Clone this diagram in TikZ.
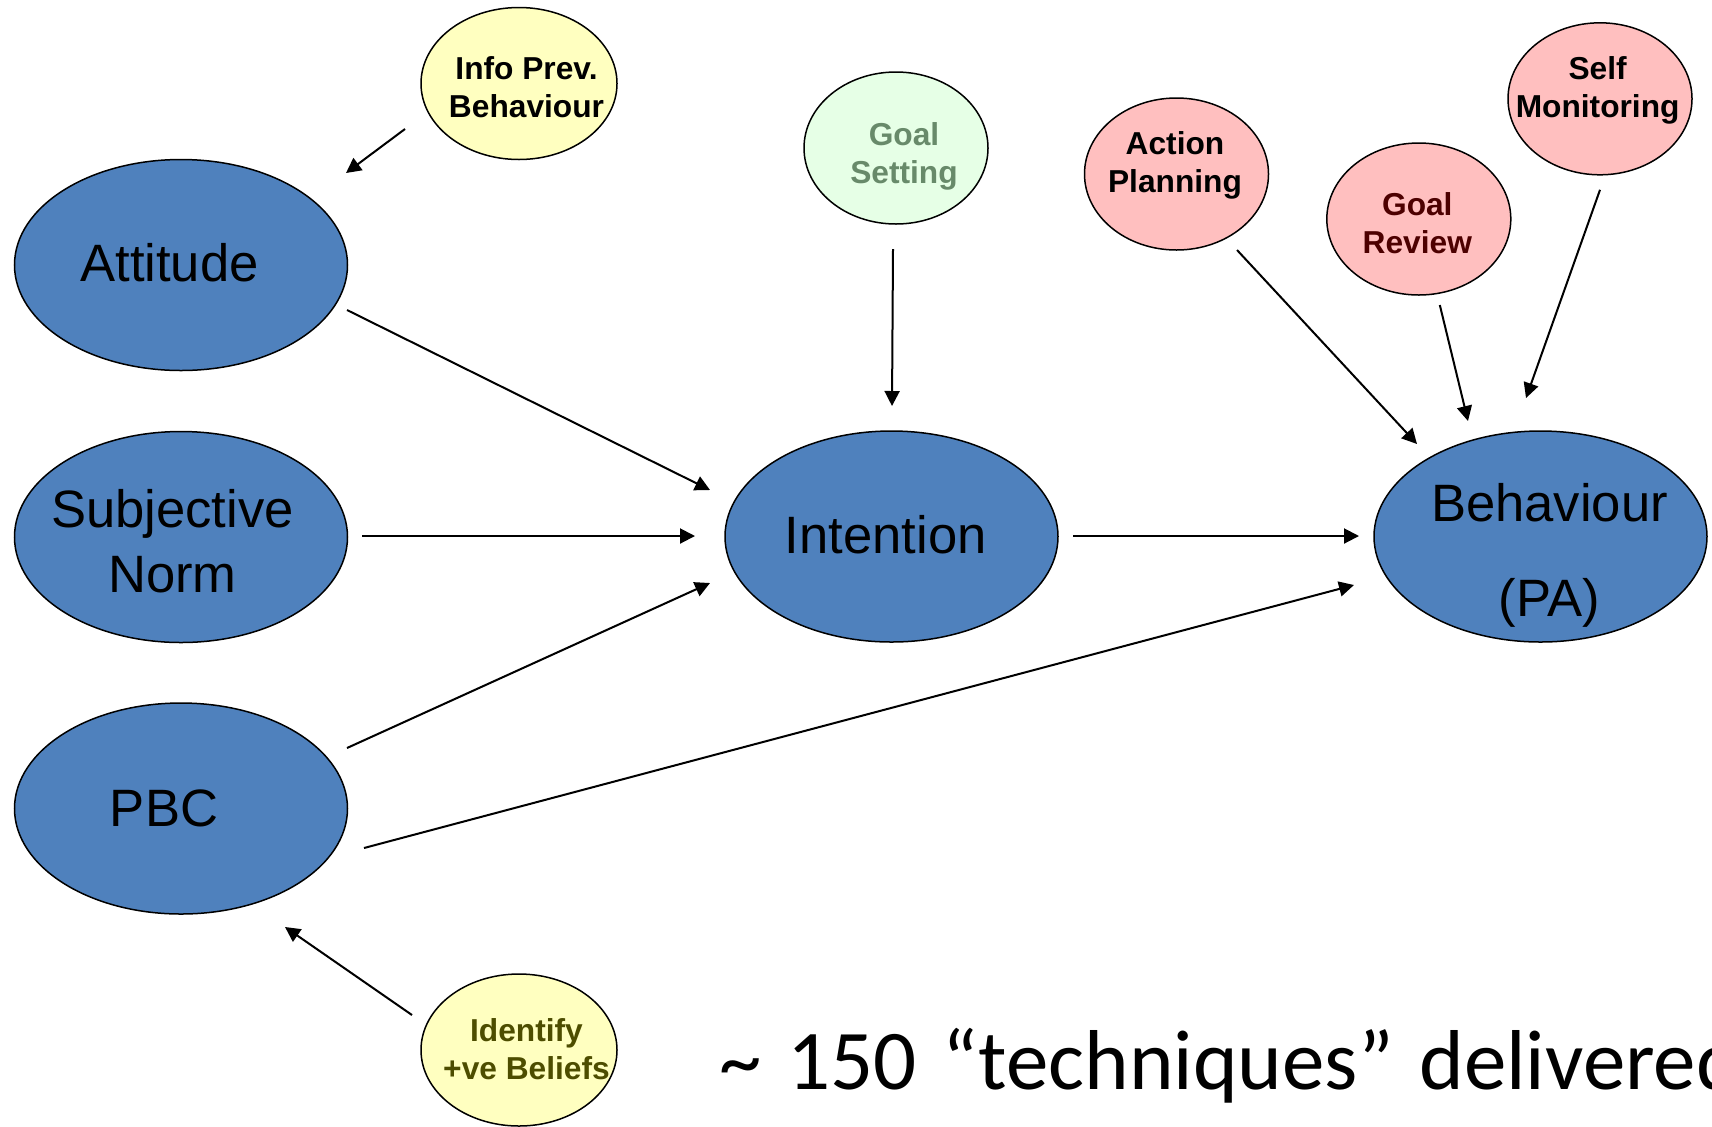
\documentclass[tikz,border=0pt]{standalone}
\usepackage{fontspec}
\setmainfont{Liberation Sans}
\newfontfamily\calibfont{Carlito}
\usetikzlibrary{calc,arrows.meta}
\definecolor{bigblue}{HTML}{4F81BD}
\definecolor{lyellow}{HTML}{FFFFC0}
\definecolor{lgreen}{HTML}{E6FFE6}
\definecolor{gstext}{HTML}{688A6A}
\definecolor{lpink}{HTML}{FFBFBF}
\definecolor{grtext}{HTML}{4D0000}
\definecolor{idtext}{HTML}{4D4D00}
\tikzset{
  bigell/.style={ellipse, draw=black, line width=0.75pt, fill=bigblue, minimum width=166.5pt, minimum height=105.5pt, inner sep=0pt},
  smallell/.style={ellipse, draw=black, line width=0.75pt, minimum width=92pt, minimum height=76pt, inner sep=0pt},
  bigtxt/.style={anchor=base, inner sep=0pt, font=\fontsize{26.3}{32.5}\selectfont},
  smalltxt/.style={anchor=base, inner sep=0pt, font=\fontsize{15.85}{19}\selectfont\bfseries},
  arr/.style={line width=1pt, -{Triangle[length=7.5pt,width=7.5pt]}}
}
\usetikzlibrary{shapes.geometric}
\begin{document}
\begin{tikzpicture}[x=0.5pt,y=-0.5pt]
\useasboundingbox (0,0) rectangle (1712,1126);
\clip (0,0) rectangle (1712,1126);
% big ellipses
\node[bigell] (att) at (181,265) {};
\node[bigell] (sn) at (181,537) {};
\node[bigell] (pbc) at (181,808.5) {};
\node[bigell] (int) at (891.5,536.5) {};
\node[bigell] (beh) at (1540.5,536.5) {};
\node[bigtxt] (att-t) at (169.5,281) {Attitude};
\node[bigtxt] (sn-t) at (172.5,527.5) {\begin{tabular}[t]{@{}c@{}}Subjective\\Norm\end{tabular}};
\node[bigtxt] (pbc-t) at (164,826.5) {PBC};
\node[bigtxt] (int-t) at (885.8,553.3) {Intention};
\node[bigtxt] (beh-t) at (1549.5,521.7) {\begin{tabular}[t]{@{}c@{}}Behaviour\\[15pt](PA)\end{tabular}};
% small ellipses
\node[smallell, fill=lyellow, minimum width=98pt] (info) at (519,83.5) {};
\node[smallell, fill=lyellow, minimum width=98pt] (ident) at (519,1050) {};
\node[smallell, fill=lgreen] (gs) at (896,148) {};
\node[smallell, fill=lpink] (ap) at (1176.5,174) {};
\node[smallell, fill=lpink] (gr) at (1418.8,219) {};
\node[smallell, fill=lpink] (sm) at (1600,98.8) {};
\node[smalltxt] (info-t) at (526.5,79.3) {\begin{tabular}[t]{@{}c@{}}Info Prev.\\Behaviour\end{tabular}};
\node[smalltxt, text=idtext] (ident-t) at (526.5,1041.7) {\begin{tabular}[t]{@{}c@{}}Identify\\+ve Beliefs\end{tabular}};
\node[smalltxt, text=gstext] (gs-t) at (904,145.5) {\begin{tabular}[t]{@{}c@{}}Goal\\Setting\end{tabular}};
\node[smalltxt] (ap-t) at (1175,154) {\begin{tabular}[t]{@{}c@{}}Action\\Planning\end{tabular}};
\node[smalltxt, text=grtext] (gr-t) at (1417.3,215.5) {\begin{tabular}[t]{@{}c@{}}Goal\\Review\end{tabular}};
\node[smalltxt] (sm-t) at (1597.6,79.5) {\begin{tabular}[t]{@{}c@{}}Self\\Monitoring\end{tabular}};
% connectors
\draw[arr] ($(info.center)+(-114,45.5)$) -- ($(att.center)+(165,-92)$);
\draw[arr] ($(att.center)+(166,45)$) -- ($(int.center)+(-181.5,-46.5)$);
\draw[arr] ($(sn.center)+(181,-1)$) -- ($(int.center)+(-196.5,-0.5)$);
\draw[arr] ($(pbc.center)+(166,-60.5)$) -- ($(int.center)+(-181.5,46.5)$);
\draw[arr] ($(pbc.center)+(183,39.5)$) -- ($(beh.center)+(-186.5,48.5)$);
\draw[arr] ($(int.center)+(181.5,-0.5)$) -- ($(beh.center)+(-181.5,-0.5)$);
\draw[arr] ($(gs.center)+(-3,101)$) -- ($(int.center)+(0.5,-130.5)$);
\draw[arr] ($(ap.center)+(60.5,76)$) -- ($(beh.center)+(-123.5,-92.5)$);
\draw[arr] ($(gr.center)+(21,86)$) -- ($(beh.center)+(-72.5,-115.5)$);
\draw[arr] ($(sm.center)+(0,91)$) -- ($(beh.center)+(-14.5,-138.5)$);
\draw[arr] ($(ident.center)+(-107,-35)$) -- ($(pbc.center)+(104,118.5)$);
% bottom text
\node[anchor=base west, inner sep=0pt, font=\calibfont\fontsize{42.5}{50}\selectfont] (note) at (719,1089) {\spaceskip=13pt plus 0pt minus 0pt\textasciitilde{} 150 “techniques” delivered};
\end{tikzpicture}
\end{document}
